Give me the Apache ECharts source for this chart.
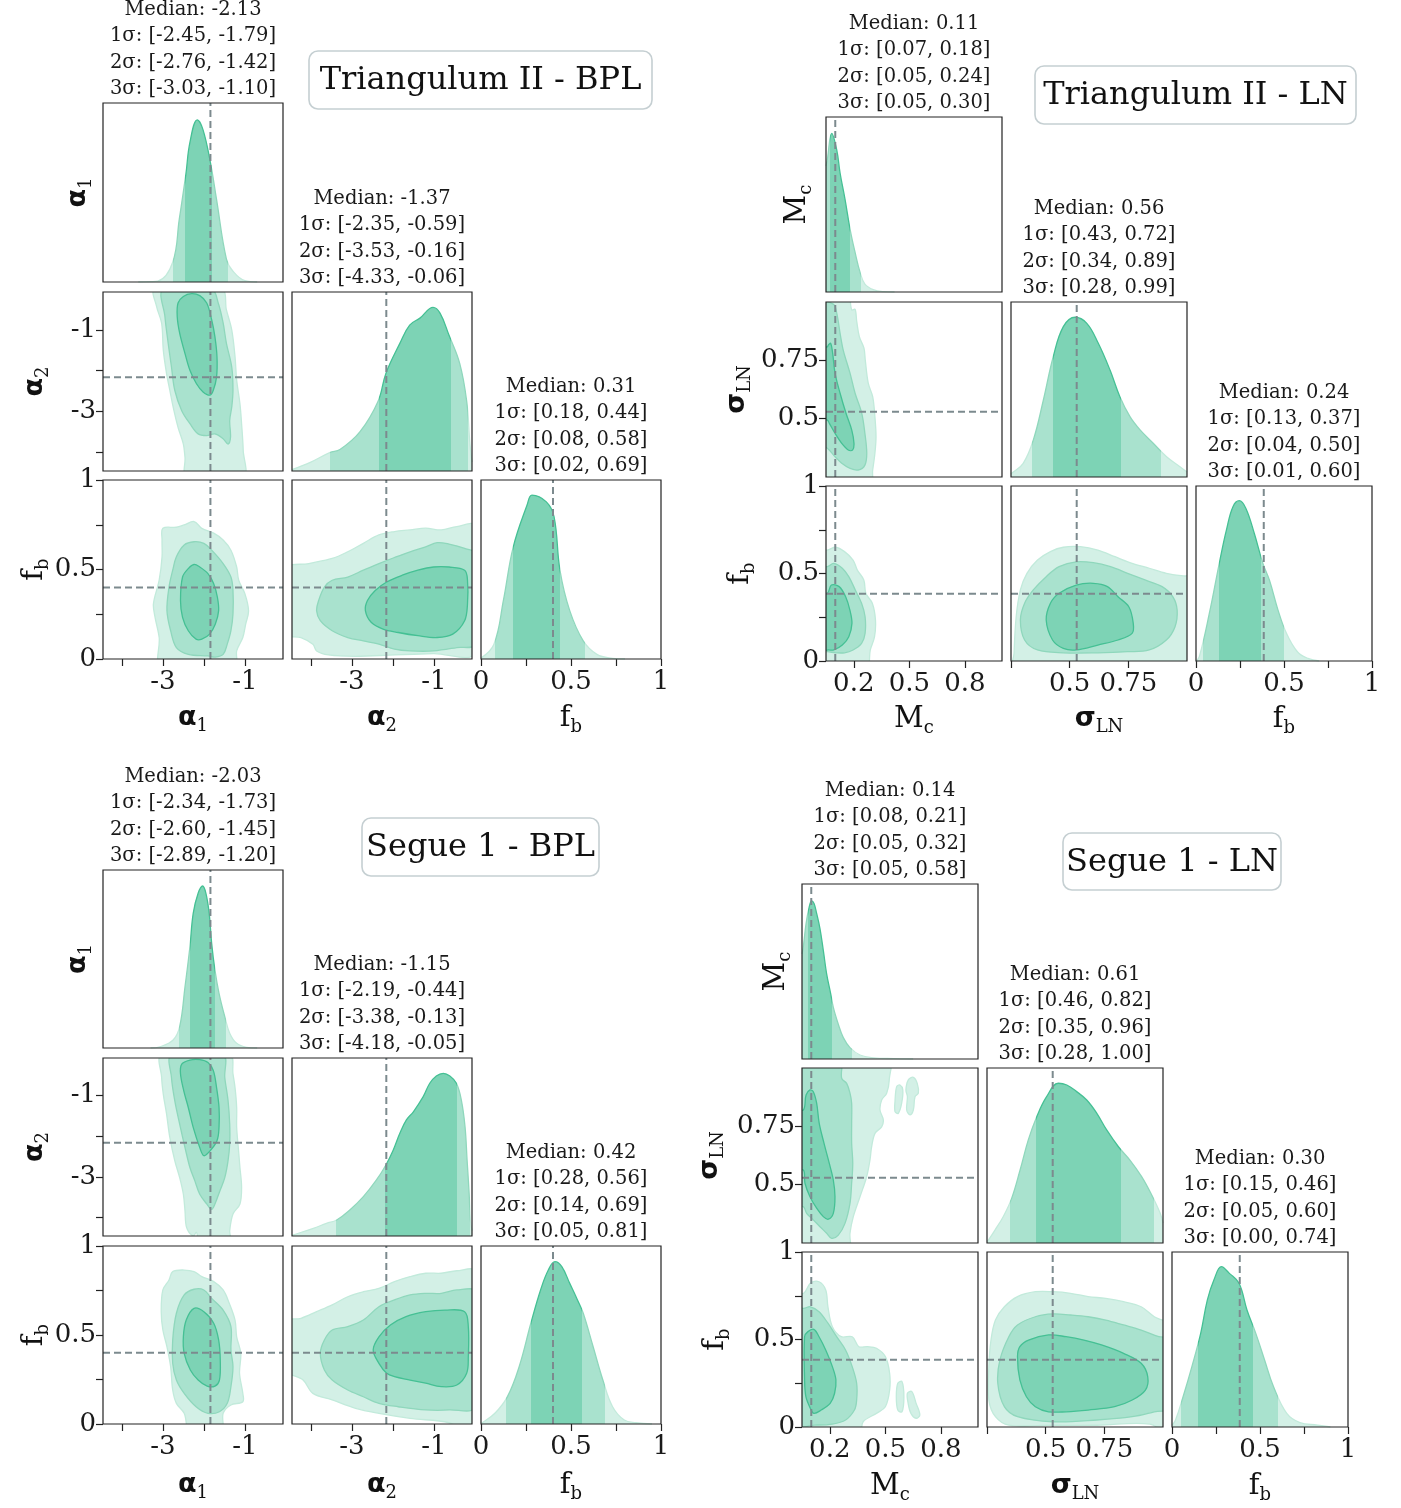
<!DOCTYPE html>
<html><head><meta charset="utf-8">
<script src="https://cdn.jsdelivr.net/npm/echarts@6/dist/echarts.min.js"></script>
<style>html,body{margin:0;padding:0;background:#fff}#chart{width:1401px;height:1508px}</style>
</head><body><div id="chart"></div>
<script>
// ================= DATA =================
const TITLES = ['Triangulum II - BPL', 'Triangulum II - LN', 'Segue 1 - BPL', 'Segue 1 - LN'];

const BPL_NAMES = [['α', '1'], ['α', '2'], ['f', 'b']];
const LN_NAMES = [['M', 'c'], ['σ', 'LN'], ['f', 'b']];

const BPL_RANGES = [[-4.46, -0.07], [-4.46, -0.07], [0, 1]];
const LN_RANGES = [[0.05, 1.0], [0.25, 1.0], [0, 1]];
const BPL_X_TICKS = [[-4, -3, -2, -1], [-4, -3, -2, -1], [0, 0.25, 0.5, 0.75, 1]];
const BPL_X_LABELS = [[-3, -1], [-3, -1], [0, 0.5, 1]];
const BPL_Y_TICKS = [null, [-4, -3, -2, -1], [0, 0.25, 0.5, 0.75, 1]];
const BPL_Y_LABELS = [null, [-3, -1], [0, 0.5, 1]];
const LN_X_TICKS = [[0.2, 0.5, 0.8], [0.25, 0.5, 0.75], [0, 0.25, 0.5, 0.75, 1]];
const LN_X_LABELS = [[0.2, 0.5, 0.8], [0.5, 0.75], [0, 0.5, 1]];
const LN_Y_TICKS = [null, [0.5, 0.75], [0, 0.25, 0.5, 0.75, 1]];
const LN_Y_LABELS = [null, [0.5, 0.75], [0, 0.5, 1]];

const BPL_TRUTH = [-1.84, -2.16, 0.40];
const LN_TRUTH = [0.10, 0.53, 0.385];

// ---- Triangulum II - BPL ----
const TRI_BPL_MEDIAN = [-2.13, -1.37, 0.31];
const TRI_BPL_1S = [[-2.45, -1.79], [-2.35, -0.59], [0.18, 0.44]];
const TRI_BPL_2S = [[-2.76, -1.42], [-3.53, -0.16], [0.08, 0.58]];
const TRI_BPL_3S = [[-3.03, -1.10], [-4.33, -0.06], [0.02, 0.69]];
const TRI_BPL_KDE0_X = [-3.6, -3.3, -3.12, -2.76, -2.6, -2.44, -2.34, -2.16, -2.02, -1.84, -1.69, -1.45, -1.29, -1.0, -0.7];
const TRI_BPL_KDE0_Y = [0, 0.002, 0.005, 0.11, 0.35, 0.6, 0.78, 0.906, 0.85, 0.667, 0.46, 0.128, 0.06, 0.007, 0];
const TRI_BPL_KDE1_X = [-4.46, -4.0, -3.54, -3.29, -2.80, -2.36, -2.17, -1.83, -1.59, -1.34, -1.02, -0.85, -0.63, -0.37, -0.20, -0.12, -0.07];
const TRI_BPL_KDE1_Y = [0.008, 0.05, 0.103, 0.12, 0.22, 0.39, 0.545, 0.713, 0.815, 0.854, 0.914, 0.882, 0.758, 0.601, 0.39, 0.15, 0.05];
const TRI_BPL_KDE2_X = [0, 0.072, 0.125, 0.179, 0.256, 0.283, 0.363, 0.406, 0.439, 0.493, 0.568, 0.644, 0.73, 0.8];
const TRI_BPL_KDE2_Y = [0.005, 0.082, 0.33, 0.625, 0.86, 0.916, 0.878, 0.794, 0.494, 0.27, 0.101, 0.026, 0.004, 0];
const TRI_BPL_C10_OUT = [[-3.195, 0.0], [-3.154, -0.425], [-3.03, -0.835], [-2.99, -1.49], [-2.91, -2.07], [-2.83, -2.48], [-2.75, -2.89], [-2.63, -3.39], [-2.50, -3.80], [-2.46, -4.13], [-2.42, -4.6], [-1.04, -4.6], [-1.04, -3.96], [-1.08, -3.30], [-1.12, -2.81], [-1.20, -2.23], [-1.24, -1.66], [-1.32, -1.0], [-1.45, -0.51], [-1.57, 0.0]];
const TRI_BPL_C10_MID = [[-2.99, 0.0], [-2.95, -0.67], [-2.87, -1.33], [-2.79, -1.91], [-2.71, -2.48], [-2.54, -2.98], [-2.34, -3.30], [-2.14, -3.55], [-1.93, -3.59], [-1.73, -3.55], [-1.53, -3.67], [-1.41, -3.80], [-1.35, -3.63], [-1.37, -3.22], [-1.32, -2.89], [-1.29, -2.48], [-1.32, -1.91], [-1.45, -1.33], [-1.53, -0.83], [-1.65, -0.34], [-1.81, 0.0]];
const TRI_BPL_C10_IN = [[-2.63, -0.34], [-2.50, -0.18], [-2.30, -0.11], [-2.10, -0.16], [-1.93, -0.34], [-1.81, -0.75], [-1.73, -1.17], [-1.68, -1.66], [-1.69, -2.15], [-1.77, -2.48], [-1.85, -2.60], [-2.02, -2.52], [-2.18, -2.32], [-2.34, -1.99], [-2.46, -1.58], [-2.59, -1.08], [-2.65, -0.67]];
const TRI_BPL_C20_OUT = [[-3.0, 0.73], [-2.67, 0.736], [-2.48, 0.749], [-2.24, 0.768], [-2.05, 0.73], [-1.76, 0.703], [-1.53, 0.665], [-1.34, 0.608], [-1.20, 0.514], [-1.15, 0.44], [-1.0, 0.365], [-0.91, 0.27], [-0.98, 0.195], [-1.05, 0.12], [-1.20, 0.045], [-1.24, -0.05], [-3.04, -0.05], [-3.09, 0.12], [-3.19, 0.233], [-3.23, 0.308], [-3.09, 0.44], [-3.02, 0.571], [-3.02, 0.665]];
const TRI_BPL_C20_MID = [[-2.67, 0.571], [-2.48, 0.637], [-2.24, 0.655], [-2.0, 0.646], [-1.81, 0.608], [-1.53, 0.533], [-1.34, 0.458], [-1.29, 0.383], [-1.29, 0.252], [-1.34, 0.158], [-1.43, 0.083], [-1.53, 0.026], [-1.72, 0.011], [-1.90, 0.017], [-2.38, 0.026], [-2.67, 0.064], [-2.81, 0.158], [-2.90, 0.27], [-2.85, 0.402], [-2.76, 0.496]];
const TRI_BPL_C20_IN = [[-2.52, 0.458], [-2.38, 0.505], [-2.24, 0.528], [-2.10, 0.514], [-1.90, 0.477], [-1.76, 0.421], [-1.67, 0.345], [-1.64, 0.27], [-1.72, 0.195], [-1.86, 0.139], [-2.05, 0.111], [-2.19, 0.111], [-2.38, 0.158], [-2.52, 0.233], [-2.57, 0.327]];
const TRI_BPL_C21_OUT = [[-4.6, 0.505], [-4.05, 0.533], [-3.48, 0.562], [-3.10, 0.599], [-2.72, 0.646], [-2.34, 0.693], [-1.96, 0.712], [-1.58, 0.721], [-1.20, 0.731], [-0.82, 0.721], [-0.44, 0.74], [0.0, 0.744], [0.0, 0.036], [-1.01, 0.03], [-1.96, 0.023], [-2.91, 0.015], [-3.57, 0.023], [-3.86, 0.045], [-3.95, 0.083], [-4.24, 0.12], [-4.6, 0.139]];
const TRI_BPL_C21_MID = [[-3.86, 0.27], [-3.81, 0.327], [-3.67, 0.402], [-3.48, 0.44], [-3.10, 0.458], [-2.72, 0.496], [-2.34, 0.533], [-1.96, 0.567], [-1.58, 0.599], [-1.20, 0.627], [-0.92, 0.65], [-0.63, 0.642], [-0.25, 0.618], [0.0, 0.59], [0.0, 0.083], [-0.44, 0.064], [-1.01, 0.045], [-1.58, 0.045], [-1.96, 0.055], [-2.34, 0.083], [-2.72, 0.101], [-3.10, 0.12], [-3.48, 0.158], [-3.77, 0.214]];
const TRI_BPL_C21_IN = [[-2.67, 0.27], [-2.62, 0.327], [-2.43, 0.383], [-2.15, 0.43], [-1.77, 0.468], [-1.39, 0.496], [-1.01, 0.514], [-0.63, 0.514], [-0.25, 0.496], [-0.18, 0.44], [-0.18, 0.308], [-0.25, 0.214], [-0.54, 0.139], [-0.92, 0.12], [-1.39, 0.13], [-1.87, 0.148], [-2.24, 0.167], [-2.53, 0.205]];

// ---- Triangulum II - LN ----
const TRI_LN_MEDIAN = [0.11, 0.56, 0.24];
const TRI_LN_1S = [[0.07, 0.18], [0.43, 0.72], [0.13, 0.37]];
const TRI_LN_2S = [[0.05, 0.24], [0.34, 0.89], [0.04, 0.50]];
const TRI_LN_3S = [[0.05, 0.30], [0.28, 0.99], [0.01, 0.60]];
const TRI_LN_KDE0_X = [0.05, 0.057, 0.081, 0.108, 0.126, 0.153, 0.18, 0.207, 0.234, 0.26, 0.305, 0.359, 0.42];
const TRI_LN_KDE0_Y = [0.72, 0.756, 0.907, 0.812, 0.68, 0.528, 0.358, 0.226, 0.112, 0.045, 0.013, 0.002, 0];
const TRI_LN_KDE1_X = [0.25, 0.253, 0.302, 0.345, 0.388, 0.430, 0.473, 0.523, 0.573, 0.622, 0.672, 0.714, 0.757, 0.80, 0.856, 0.913, 0.970, 1.0];
const TRI_LN_KDE1_Y = [0.015, 0.021, 0.078, 0.211, 0.44, 0.687, 0.859, 0.913, 0.878, 0.764, 0.611, 0.459, 0.345, 0.269, 0.193, 0.116, 0.059, 0.028];
const TRI_LN_KDE2_X = [0, 0.019, 0.076, 0.136, 0.173, 0.21, 0.246, 0.283, 0.331, 0.38, 0.417, 0.466, 0.514, 0.576, 0.636, 0.7];
const TRI_LN_KDE2_Y = [0, 0.025, 0.273, 0.577, 0.749, 0.882, 0.916, 0.873, 0.73, 0.558, 0.463, 0.291, 0.158, 0.053, 0.015, 0];
const TRI_LN_C10_OUT = [[0.0, 1.05], [0.162, 1.05], [0.189, 0.966], [0.207, 0.969], [0.216, 0.916], [0.23, 0.851], [0.255, 0.802], [0.262, 0.751], [0.278, 0.652], [0.302, 0.594], [0.314, 0.508], [0.32, 0.423], [0.314, 0.352], [0.302, 0.28], [0.288, 0.2], [0.0, 0.2]];
const TRI_LN_C10_MID = [[0.0, 0.995], [0.089, 0.991], [0.108, 0.952], [0.126, 0.866], [0.143, 0.794], [0.18, 0.694], [0.207, 0.609], [0.243, 0.523], [0.26, 0.437], [0.27, 0.352], [0.26, 0.301], [0.224, 0.28], [0.18, 0.287], [0.135, 0.309], [0.099, 0.337], [0.057, 0.373], [0.0, 0.4]];
const TRI_LN_C10_IN = [[0.0, 0.80], [0.057, 0.808], [0.063, 0.816], [0.075, 0.823], [0.086, 0.78], [0.099, 0.694], [0.126, 0.609], [0.158, 0.523], [0.189, 0.451], [0.201, 0.394], [0.194, 0.366], [0.17, 0.366], [0.135, 0.394], [0.099, 0.437], [0.068, 0.48], [0.057, 0.494], [0.0, 0.5]];
const TRI_LN_C20_OUT = [[0.0, 0.63], [0.057, 0.634], [0.103, 0.65], [0.15, 0.625], [0.196, 0.577], [0.219, 0.52], [0.254, 0.463], [0.265, 0.387], [0.3, 0.33], [0.317, 0.234], [0.312, 0.139], [0.289, 0.063], [0.265, -0.05], [0.0, -0.05]];
const TRI_LN_C20_MID = [[0.0, 0.54], [0.057, 0.539], [0.092, 0.558], [0.138, 0.53], [0.173, 0.482], [0.208, 0.406], [0.242, 0.33], [0.261, 0.253], [0.261, 0.158], [0.242, 0.101], [0.196, 0.063], [0.15, 0.047], [0.103, 0.047], [0.057, 0.053], [0.0, 0.053]];
const TRI_LN_C20_IN = [[0.0, 0.39], [0.057, 0.387], [0.079, 0.434], [0.121, 0.425], [0.156, 0.367], [0.179, 0.291], [0.19, 0.215], [0.173, 0.139], [0.138, 0.091], [0.092, 0.063], [0.062, 0.063], [0.0, 0.06]];
const TRI_LN_C21_OUT = [[0.263, 0.044], [0.272, 0.253], [0.29, 0.406], [0.318, 0.501], [0.363, 0.577], [0.418, 0.625], [0.473, 0.65], [0.546, 0.653], [0.62, 0.634], [0.693, 0.596], [0.766, 0.558], [0.839, 0.53], [0.912, 0.501], [0.985, 0.486], [1.05, 0.482], [1.05, -0.05], [0.263, -0.05]];
const TRI_LN_C21_MID = [[0.29, 0.234], [0.308, 0.33], [0.345, 0.406], [0.4, 0.482], [0.455, 0.539], [0.528, 0.567], [0.601, 0.562], [0.674, 0.539], [0.747, 0.501], [0.821, 0.463], [0.894, 0.425], [0.94, 0.367], [0.958, 0.291], [0.949, 0.196], [0.912, 0.12], [0.839, 0.063], [0.747, 0.053], [0.62, 0.047], [0.473, 0.047], [0.363, 0.063], [0.308, 0.12]];
const TRI_LN_C21_IN = [[0.4, 0.234], [0.418, 0.33], [0.455, 0.387], [0.528, 0.434], [0.601, 0.444], [0.661, 0.425], [0.706, 0.367], [0.752, 0.31], [0.771, 0.215], [0.766, 0.158], [0.706, 0.12], [0.62, 0.091], [0.528, 0.063], [0.473, 0.072], [0.427, 0.12]];

// ---- Segue 1 - BPL ----
const SEG_BPL_MEDIAN = [-2.03, -1.15, 0.42];
const SEG_BPL_1S = [[-2.34, -1.73], [-2.19, -0.44], [0.28, 0.56]];
const SEG_BPL_2S = [[-2.60, -1.45], [-3.38, -0.13], [0.14, 0.69]];
const SEG_BPL_3S = [[-2.89, -1.20], [-4.18, -0.05], [0.05, 0.81]];
const SEG_BPL_KDE0_X = [-3.3, -3.07, -2.75, -2.59, -2.46, -2.34, -2.26, -2.14, -2.03, -1.95, -1.87, -1.81, -1.73, -1.63, -1.49, -1.37, -1.20, -0.96, -0.7];
const SEG_BPL_KDE0_Y = [0, 0.007, 0.045, 0.12, 0.344, 0.569, 0.756, 0.869, 0.91, 0.869, 0.756, 0.588, 0.438, 0.307, 0.176, 0.083, 0.026, 0.004, 0];
const SEG_BPL_KDE1_X = [-4.46, -4.43, -3.94, -3.62, -3.37, -3.05, -2.72, -2.40, -2.17, -1.99, -1.83, -1.67, -1.50, -1.26, -1.10, -0.94, -0.77, -0.61, -0.45, -0.33, -0.24, -0.19, -0.14, -0.11, -0.07];
const SEG_BPL_KDE1_Y = [0.004, 0.006, 0.043, 0.071, 0.09, 0.146, 0.221, 0.315, 0.399, 0.483, 0.577, 0.652, 0.698, 0.783, 0.858, 0.899, 0.914, 0.899, 0.858, 0.764, 0.614, 0.427, 0.24, 0.09, 0.03];
const SEG_BPL_KDE2_X = [0, 0.007, 0.077, 0.147, 0.212, 0.277, 0.331, 0.374, 0.411, 0.449, 0.493, 0.536, 0.568, 0.623, 0.677, 0.731, 0.796, 0.861, 0.95];
const SEG_BPL_KDE2_Y = [0.004, 0.007, 0.06, 0.154, 0.322, 0.566, 0.753, 0.865, 0.912, 0.884, 0.79, 0.697, 0.622, 0.434, 0.247, 0.097, 0.022, 0.007, 0];
const SEG_BPL_C10_OUT = [[-3.03, 0.0], [-3.03, -0.55], [-2.99, -0.96], [-2.91, -1.45], [-2.83, -2.03], [-2.71, -2.60], [-2.59, -3.02], [-2.50, -3.43], [-2.46, -3.84], [-2.42, -4.25], [-2.26, -4.46], [-2.18, -4.37], [-2.10, -4.6], [-1.37, -4.6], [-1.37, -4.33], [-1.29, -3.92], [-1.12, -3.67], [-1.08, -3.26], [-1.12, -2.77], [-1.16, -2.28], [-1.20, -1.78], [-1.20, -1.29], [-1.24, -0.80], [-1.29, -0.46], [-1.37, 0.0]];
const SEG_BPL_C10_MID = [[-2.79, 0.0], [-2.79, -0.55], [-2.71, -1.12], [-2.59, -1.70], [-2.46, -2.28], [-2.34, -2.77], [-2.22, -3.10], [-2.10, -3.43], [-1.93, -3.67], [-1.81, -3.80], [-1.73, -3.67], [-1.61, -3.35], [-1.49, -3.02], [-1.41, -2.60], [-1.37, -2.19], [-1.37, -1.70], [-1.41, -1.12], [-1.49, -0.55], [-1.53, 0.0]];
const SEG_BPL_C10_IN = [[-2.54, -0.22], [-2.34, -0.12], [-2.10, -0.11], [-1.90, -0.18], [-1.77, -0.38], [-1.69, -0.80], [-1.63, -1.29], [-1.63, -1.78], [-1.68, -2.11], [-1.85, -2.36], [-2.0, -2.48], [-2.10, -2.28], [-2.26, -1.78], [-2.38, -1.29], [-2.49, -0.88], [-2.57, -0.46]];
const SEG_BPL_C20_OUT = [[-3.04, 0.631], [-3.0, 0.753], [-2.85, 0.809], [-2.76, 0.856], [-2.48, 0.865], [-2.24, 0.856], [-2.05, 0.828], [-1.76, 0.8], [-1.53, 0.753], [-1.38, 0.678], [-1.24, 0.584], [-1.20, 0.49], [-1.10, 0.397], [-1.13, 0.285], [-1.05, 0.172], [-1.05, 0.125], [-1.34, 0.107], [-1.53, 0.06], [-1.57, -0.05], [-2.33, -0.05], [-2.48, 0.06], [-2.67, 0.116], [-2.76, 0.191], [-2.81, 0.322], [-2.90, 0.434], [-3.0, 0.528]];
const SEG_BPL_C20_MID = [[-2.76, 0.472], [-2.67, 0.622], [-2.48, 0.725], [-2.24, 0.757], [-2.0, 0.753], [-1.81, 0.706], [-1.53, 0.64], [-1.34, 0.547], [-1.34, 0.416], [-1.29, 0.322], [-1.34, 0.21], [-1.43, 0.116], [-1.62, 0.069], [-1.90, 0.06], [-2.19, 0.097], [-2.48, 0.172], [-2.67, 0.247], [-2.76, 0.341]];
const SEG_BPL_C20_IN = [[-2.50, 0.49], [-2.43, 0.584], [-2.24, 0.65], [-2.0, 0.631], [-1.76, 0.566], [-1.64, 0.472], [-1.60, 0.36], [-1.62, 0.247], [-1.73, 0.213], [-1.92, 0.213], [-2.14, 0.247], [-2.33, 0.303], [-2.48, 0.397]];
const SEG_BPL_C21_OUT = [[-4.6, 0.575], [-4.24, 0.594], [-3.86, 0.631], [-3.48, 0.669], [-3.10, 0.715], [-2.72, 0.743], [-2.34, 0.762], [-1.96, 0.8], [-1.58, 0.828], [-1.20, 0.847], [-0.82, 0.847], [-0.44, 0.861], [0.0, 0.856], [0.0, -0.05], [-0.63, 0.007], [-1.58, 0.032], [-2.34, 0.06], [-2.91, 0.088], [-3.48, 0.135], [-3.95, 0.172], [-4.19, 0.247], [-4.6, 0.303]];
const SEG_BPL_C21_MID = [[-3.77, 0.397], [-3.67, 0.472], [-3.48, 0.528], [-3.10, 0.547], [-2.72, 0.584], [-2.34, 0.659], [-1.96, 0.697], [-1.58, 0.725], [-1.20, 0.734], [-0.82, 0.734], [-0.44, 0.753], [0.0, 0.743], [0.0, 0.097], [-0.63, 0.079], [-1.20, 0.079], [-1.87, 0.097], [-2.34, 0.116], [-2.72, 0.153], [-3.10, 0.191], [-3.48, 0.247], [-3.67, 0.303]];
const SEG_BPL_C21_IN = [[-2.48, 0.416], [-2.34, 0.49], [-2.06, 0.556], [-1.68, 0.603], [-1.20, 0.631], [-0.73, 0.64], [-0.25, 0.631], [-0.16, 0.547], [-0.16, 0.378], [-0.20, 0.285], [-0.44, 0.219], [-0.82, 0.21], [-1.20, 0.229], [-1.58, 0.247], [-1.96, 0.266], [-2.15, 0.285], [-2.34, 0.341]];

// ---- Segue 1 - LN ----
const SEG_LN_MEDIAN = [0.14, 0.61, 0.30];
const SEG_LN_1S = [[0.08, 0.21], [0.46, 0.82], [0.15, 0.46]];
const SEG_LN_2S = [[0.05, 0.32], [0.35, 0.96], [0.05, 0.60]];
const SEG_LN_3S = [[0.05, 0.58], [0.28, 1.00], [0.00, 0.74]];
const SEG_LN_KDE0_X = [0.05, 0.057, 0.072, 0.089, 0.102, 0.115, 0.129, 0.147, 0.165, 0.183, 0.205, 0.219, 0.246, 0.273, 0.309, 0.363, 0.435, 0.543, 0.65];
const SEG_LN_KDE0_Y = [0.6, 0.64, 0.774, 0.869, 0.904, 0.889, 0.832, 0.745, 0.621, 0.487, 0.372, 0.295, 0.199, 0.122, 0.065, 0.023, 0.007, 0.002, 0];
const SEG_LN_KDE1_X = [0.25, 0.256, 0.284, 0.319, 0.355, 0.391, 0.426, 0.462, 0.504, 0.554, 0.59, 0.632, 0.675, 0.718, 0.76, 0.81, 0.859, 0.909, 0.952, 0.988, 1.0];
const SEG_LN_KDE1_Y = [0.01, 0.017, 0.074, 0.15, 0.255, 0.417, 0.589, 0.722, 0.836, 0.913, 0.903, 0.865, 0.817, 0.741, 0.646, 0.55, 0.474, 0.379, 0.274, 0.17, 0.113];
const SEG_LN_KDE2_X = [0, 0.02, 0.063, 0.113, 0.163, 0.201, 0.238, 0.281, 0.326, 0.381, 0.426, 0.476, 0.526, 0.577, 0.652, 0.727, 0.827, 0.9];
const SEG_LN_KDE2_Y = [0.01, 0.04, 0.173, 0.345, 0.535, 0.726, 0.84, 0.916, 0.878, 0.821, 0.669, 0.535, 0.383, 0.23, 0.078, 0.025, 0.011, 0];
const SEG_LN_C10_OUT = [[0.0, 1.05], [0.516, 1.05], [0.521, 0.949], [0.507, 0.892], [0.48, 0.863], [0.471, 0.82], [0.489, 0.777], [0.48, 0.748], [0.444, 0.72], [0.426, 0.663], [0.417, 0.606], [0.399, 0.534], [0.363, 0.448], [0.327, 0.363], [0.309, 0.292], [0.30, 0.2], [0.0, 0.2]];
const SEG_LN_C10_ISL1 = [[0.561, 0.92], [0.579, 0.927], [0.594, 0.906], [0.588, 0.849], [0.57, 0.806], [0.552, 0.813], [0.552, 0.857]];
const SEG_LN_C10_ISL2 = [[0.624, 0.949], [0.651, 0.96], [0.672, 0.934], [0.678, 0.892], [0.66, 0.877], [0.651, 0.82], [0.633, 0.799], [0.615, 0.82], [0.619, 0.877], [0.611, 0.906]];
const SEG_LN_C10_MID = [[0.0, 1.05], [0.255, 1.05], [0.264, 0.956], [0.291, 0.934], [0.309, 0.892], [0.318, 0.849], [0.318, 0.763], [0.318, 0.677], [0.324, 0.592], [0.318, 0.506], [0.309, 0.42], [0.282, 0.334], [0.246, 0.284], [0.21, 0.27], [0.183, 0.292], [0.147, 0.32], [0.111, 0.349], [0.075, 0.377], [0.057, 0.406], [0.0, 0.41]];
const SEG_LN_C10_IN = [[0.0, 0.82], [0.057, 0.82], [0.072, 0.884], [0.093, 0.906], [0.111, 0.898], [0.129, 0.849], [0.143, 0.763], [0.169, 0.677], [0.197, 0.592], [0.219, 0.52], [0.228, 0.448], [0.219, 0.377], [0.192, 0.352], [0.165, 0.363], [0.129, 0.399], [0.093, 0.448], [0.066, 0.506], [0.057, 0.563], [0.0, 0.56]];
const SEG_LN_C20_OUT = [[0.0, 0.76], [0.059, 0.764], [0.095, 0.821], [0.142, 0.83], [0.178, 0.783], [0.19, 0.687], [0.214, 0.573], [0.262, 0.516], [0.321, 0.516], [0.357, 0.459], [0.404, 0.459], [0.452, 0.45], [0.5, 0.402], [0.523, 0.307], [0.523, 0.211], [0.5, 0.116], [0.452, 0.078], [0.38, 0.03], [0.357, -0.05], [0.0, -0.05]];
const SEG_LN_C20_ISL1 = [[0.559, 0.173], [0.567, 0.25], [0.59, 0.259], [0.6, 0.173], [0.59, 0.087], [0.567, 0.097]];
const SEG_LN_C20_ISL2 = [[0.619, 0.193], [0.643, 0.202], [0.666, 0.135], [0.686, 0.069], [0.666, 0.05], [0.638, 0.078], [0.623, 0.135]];
const SEG_LN_C20_MID = [[0.0, 0.68], [0.059, 0.678], [0.095, 0.687], [0.142, 0.659], [0.19, 0.593], [0.237, 0.516], [0.285, 0.44], [0.321, 0.345], [0.345, 0.25], [0.345, 0.154], [0.333, 0.097], [0.285, 0.04], [0.214, 0.017], [0.119, 0.011], [0.0, 0.011]];
const SEG_LN_C20_IN = [[0.064, 0.516], [0.082, 0.545], [0.114, 0.558], [0.142, 0.516], [0.178, 0.44], [0.214, 0.345], [0.233, 0.269], [0.226, 0.193], [0.202, 0.135], [0.154, 0.097], [0.114, 0.078], [0.095, 0.107], [0.071, 0.173], [0.064, 0.269]];
const SEG_LN_C21_OUT = [[0.258, 0.345], [0.267, 0.497], [0.286, 0.611], [0.324, 0.687], [0.38, 0.745], [0.456, 0.773], [0.531, 0.773], [0.606, 0.764], [0.681, 0.745], [0.756, 0.735], [0.832, 0.716], [0.907, 0.687], [0.963, 0.63], [1.05, 0.564], [1.05, -0.05], [0.944, 0.017], [0.719, 0.01], [0.531, 0.01], [0.343, 0.011], [0.286, 0.059], [0.258, 0.154]];
const SEG_LN_C21_MID = [[0.296, 0.25], [0.305, 0.383], [0.343, 0.516], [0.38, 0.583], [0.456, 0.63], [0.531, 0.646], [0.606, 0.64], [0.681, 0.63], [0.756, 0.611], [0.832, 0.583], [0.907, 0.554], [0.982, 0.516], [1.05, 0.497], [1.05, 0.116], [0.963, 0.087], [0.869, 0.059], [0.719, 0.04], [0.531, 0.03], [0.38, 0.059], [0.324, 0.116]];
const SEG_LN_C21_IN = [[0.38, 0.402], [0.39, 0.459], [0.427, 0.497], [0.512, 0.526], [0.587, 0.516], [0.663, 0.497], [0.738, 0.469], [0.832, 0.421], [0.907, 0.364], [0.935, 0.287], [0.925, 0.211], [0.869, 0.154], [0.794, 0.116], [0.681, 0.097], [0.587, 0.087], [0.512, 0.087], [0.456, 0.116], [0.418, 0.173], [0.39, 0.269]];

// ================= STYLE / LAYOUT =================
const FONT = '"DejaVu Serif", serif';
const C1 = '#7dd3b5', C2 = '#a9e2ce', C3 = '#d3f0e6';
const L1 = '#45c094', L2 = '#8fd7bc', L3 = '#c2eadb';
const TRUTH_COLOR = '#7c8a8e';

const LAYOUT = [
  {cols: [103, 292, 481], rows: [103, 292, 480], w: 180, h: 179, box: [309, 51, 343, 58], yName: [80, 37, 36], xNameY: 720},
  {cols: [826, 1011, 1196], rows: [117, 302, 486], w: 176, h: 175, box: [1035, 66, 321, 58], yName: [799, 739, 742], xNameY: 721},
  {cols: [103, 292, 481], rows: [870, 1058, 1246], w: 180, h: 178, box: [362, 818, 237, 58], yName: [80, 37, 36], xNameY: 1487},
  {cols: [802, 987, 1172], rows: [884, 1068, 1252], w: 176, h: 175, box: [1063, 833, 218, 57], yName: [778, 712, 717], xNameY: 1488}
];

function kde(xs, ys) { return {x: xs, y: ys}; }
const CORNERS = [
  {title: TITLES[0], names: BPL_NAMES, ranges: BPL_RANGES, xt: BPL_X_TICKS, xl: BPL_X_LABELS, yt: BPL_Y_TICKS, yl: BPL_Y_LABELS, truth: BPL_TRUTH,
   med: TRI_BPL_MEDIAN, s1: TRI_BPL_1S, s2: TRI_BPL_2S, s3: TRI_BPL_3S,
   kde: [kde(TRI_BPL_KDE0_X, TRI_BPL_KDE0_Y), kde(TRI_BPL_KDE1_X, TRI_BPL_KDE1_Y), kde(TRI_BPL_KDE2_X, TRI_BPL_KDE2_Y)],
   cont: {'10': [TRI_BPL_C10_OUT, TRI_BPL_C10_MID, TRI_BPL_C10_IN], '20': [TRI_BPL_C20_OUT, TRI_BPL_C20_MID, TRI_BPL_C20_IN], '21': [TRI_BPL_C21_OUT, TRI_BPL_C21_MID, TRI_BPL_C21_IN]}, isl: {}},
  {title: TITLES[1], names: LN_NAMES, ranges: LN_RANGES, xt: LN_X_TICKS, xl: LN_X_LABELS, yt: LN_Y_TICKS, yl: LN_Y_LABELS, truth: LN_TRUTH,
   med: TRI_LN_MEDIAN, s1: TRI_LN_1S, s2: TRI_LN_2S, s3: TRI_LN_3S,
   kde: [kde(TRI_LN_KDE0_X, TRI_LN_KDE0_Y), kde(TRI_LN_KDE1_X, TRI_LN_KDE1_Y), kde(TRI_LN_KDE2_X, TRI_LN_KDE2_Y)],
   cont: {'10': [TRI_LN_C10_OUT, TRI_LN_C10_MID, TRI_LN_C10_IN], '20': [TRI_LN_C20_OUT, TRI_LN_C20_MID, TRI_LN_C20_IN], '21': [TRI_LN_C21_OUT, TRI_LN_C21_MID, TRI_LN_C21_IN]}, isl: {}},
  {title: TITLES[2], names: BPL_NAMES, ranges: BPL_RANGES, xt: BPL_X_TICKS, xl: BPL_X_LABELS, yt: BPL_Y_TICKS, yl: BPL_Y_LABELS, truth: BPL_TRUTH,
   med: SEG_BPL_MEDIAN, s1: SEG_BPL_1S, s2: SEG_BPL_2S, s3: SEG_BPL_3S,
   kde: [kde(SEG_BPL_KDE0_X, SEG_BPL_KDE0_Y), kde(SEG_BPL_KDE1_X, SEG_BPL_KDE1_Y), kde(SEG_BPL_KDE2_X, SEG_BPL_KDE2_Y)],
   cont: {'10': [SEG_BPL_C10_OUT, SEG_BPL_C10_MID, SEG_BPL_C10_IN], '20': [SEG_BPL_C20_OUT, SEG_BPL_C20_MID, SEG_BPL_C20_IN], '21': [SEG_BPL_C21_OUT, SEG_BPL_C21_MID, SEG_BPL_C21_IN]}, isl: {}},
  {title: TITLES[3], names: LN_NAMES, ranges: LN_RANGES, xt: LN_X_TICKS, xl: LN_X_LABELS, yt: LN_Y_TICKS, yl: LN_Y_LABELS, truth: LN_TRUTH,
   med: SEG_LN_MEDIAN, s1: SEG_LN_1S, s2: SEG_LN_2S, s3: SEG_LN_3S,
   kde: [kde(SEG_LN_KDE0_X, SEG_LN_KDE0_Y), kde(SEG_LN_KDE1_X, SEG_LN_KDE1_Y), kde(SEG_LN_KDE2_X, SEG_LN_KDE2_Y)],
   cont: {'10': [SEG_LN_C10_OUT, SEG_LN_C10_MID, SEG_LN_C10_IN], '20': [SEG_LN_C20_OUT, SEG_LN_C20_MID, SEG_LN_C20_IN], '21': [SEG_LN_C21_OUT, SEG_LN_C21_MID, SEG_LN_C21_IN]},
   isl: {'10': [SEG_LN_C10_ISL1, SEG_LN_C10_ISL2], '20': [SEG_LN_C20_ISL1, SEG_LN_C20_ISL2]}}
];

// ================= BUILD =================
const option = {animation: false, backgroundColor: '#ffffff', grid: [], xAxis: [], yAxis: [], series: [], visualMap: [], graphic: []};
const G = option.graphic;

function axisDef(gi, r, ticks, labels, dir) {
  return {
    type: 'value', gridIndex: gi, min: r[0], max: r[1],
    axisLine: {show: false}, splitLine: {show: false},
    axisTick: ticks ? {show: true, customValues: ticks, length: 7, inside: false, lineStyle: {color: '#222', width: 1.2}} : {show: false},
    axisLabel: labels ? {show: true, customValues: labels, fontFamily: FONT, fontSize: 26, color: '#1a1a1a', margin: dir === 'x' ? 10 : 7, showMinLabel: true, showMaxLabel: true, hideOverlap: false} : {show: false}
  };
}
function addGrid(left, top, w, h, xr, yr, xt, xl, yt, yl) {
  const gi = option.grid.length;
  option.grid.push({left, top, width: w, height: h, containLabel: false, outerBoundsMode: 'none'});
  option.xAxis.push(axisDef(gi, xr, xt, xl, 'x'));
  option.yAxis.push(axisDef(gi, yr, yt, yl, 'y'));
  G.push({type: 'rect', z: 100, silent: true, shape: {x: left, y: top, width: w, height: h}, style: {fill: 'none', stroke: '#222', lineWidth: 1.2}});
  return gi;
}
function bands(s1, s2, cols) {
  return [
    {lt: s2[0], color: cols[0]},
    {gte: s2[0], lt: s1[0], color: cols[1]},
    {gte: s1[0], lte: s1[1], color: cols[2]},
    {gt: s1[1], lte: s2[1], color: cols[1]},
    {gt: s2[1], color: cols[0]}
  ];
}
function addKde(gi, k, s1, s2) {
  const data = k.x.map((x, i) => [x, k.y[i]]);
  const a = option.series.length;
  option.series.push({type: 'line', xAxisIndex: gi, yAxisIndex: gi, data, smooth: 0.4, symbol: 'none', silent: true, lineStyle: {width: 0}, areaStyle: {opacity: 1}, z: 2});
  option.visualMap.push({type: 'piecewise', show: false, dimension: 0, seriesIndex: a, pieces: bands(s1, s2, [C3, C2, C1])});
  const b = option.series.length;
  option.series.push({type: 'line', xAxisIndex: gi, yAxisIndex: gi, data, smooth: 0.4, symbol: 'none', silent: true, lineStyle: {width: 1.3}, z: 3});
  option.visualMap.push({type: 'piecewise', show: false, dimension: 0, seriesIndex: b, pieces: bands(s1, s2, [L3, L2, L1])});
}
function addPoly(gi, pts, fill, stroke, z) {
  option.series.push({
    type: 'custom', coordinateSystem: 'cartesian2d', xAxisIndex: gi, yAxisIndex: gi, clip: true, silent: true, z,
    data: pts,
    renderItem: (params, api) => {
      if (params.dataIndex !== 0) return null;
      const p = pts.map(d => api.coord(d));
      return {type: 'polygon', shape: {points: p, smooth: 0.35}, style: {fill, stroke, lineWidth: 1.3}};
    }
  });
}
function addTruth(gi, xr, yr, tx, ty) {
  const ls = {type: [7, 4], color: TRUTH_COLOR, width: 2};
  option.series.push({type: 'line', xAxisIndex: gi, yAxisIndex: gi, data: [[tx, yr[0]], [tx, yr[1]]], symbol: 'none', silent: true, lineStyle: ls, z: 20});
  if (ty !== null) option.series.push({type: 'line', xAxisIndex: gi, yAxisIndex: gi, data: [[xr[0], ty], [xr[1], ty]], symbol: 'none', silent: true, lineStyle: ls, z: 20});
}
function nameText(x, y, parts, rotate) {
  const greek = /[α-ω]/.test(parts[0]);
  G.push({type: 'text', x, y, rotation: rotate ? Math.PI / 2 : 0, z: 60, silent: true,
    style: {text: '{m|' + parts[0] + '}{s|' + parts[1] + '}', align: 'center', verticalAlign: 'middle',
      rich: {
        m: greek ? {fontFamily: '"DejaVu Sans", sans-serif', fontWeight: 'bold', fontSize: 27, fill: '#111', padding: [0, 0, 4, 0], verticalAlign: 'bottom'}
                 : {fontFamily: FONT, fontSize: 29, fill: '#111', padding: [0, 0, 4, 0], verticalAlign: 'bottom'},
        s: {fontFamily: FONT, fontSize: 18, fill: '#111', padding: [0, 0, 0, 0], verticalAlign: 'bottom'}
      }}});
}
const f2 = v => v.toFixed(2);

CORNERS.forEach((c, ci) => {
  const L = LAYOUT[ci];
  for (let i = 0; i < 3; i++) {
    for (let j = 0; j <= i; j++) {
      const left = L.cols[j], top = L.rows[i];
      const xr = c.ranges[j];
      const yr = i === j ? [0, 1] : c.ranges[i];
      const bottom = i === 2, leftCol = j === 0 && i !== j;
      const gi = addGrid(left, top, L.w, L.h, xr, yr,
        bottom ? c.xt[j] : null, bottom ? c.xl[j] : null,
        leftCol ? c.yt[i] : null, leftCol ? c.yl[i] : null);
      if (i === j) {
        addKde(gi, c.kde[i], c.s1[i], c.s2[i]);
      } else {
        const key = '' + i + j;
        const [o, m, n] = c.cont[key];
        addPoly(gi, o, C3, L3, 2);
        (c.isl[key] || []).forEach(p => addPoly(gi, p, C3, L3, 2));
        addPoly(gi, m, C2, L2, 3);
        addPoly(gi, n, C1, L1, 4);
      }
      addTruth(gi, xr, yr, c.truth[j], i !== j ? c.truth[i] : null);
    }
    const lines = ['Median: ' + f2(c.med[i]),
      '1σ: [' + f2(c.s1[i][0]) + ', ' + f2(c.s1[i][1]) + ']',
      '2σ: [' + f2(c.s2[i][0]) + ', ' + f2(c.s2[i][1]) + ']',
      '3σ: [' + f2(c.s3[i][0]) + ', ' + f2(c.s3[i][1]) + ']'];
    G.push({type: 'text', x: L.cols[i] + L.w / 2, y: L.rows[i] - 1, z: 60, silent: true,
      style: {text: lines.join('\n'), fill: '#1a1a1a', fontFamily: FONT, fontSize: 19.5, lineHeight: 26.3, align: 'center', verticalAlign: 'bottom'}});
    nameText(L.yName[i], L.rows[i] + L.h / 2, c.names[i], true);
    nameText(L.cols[i] + L.w / 2, L.xNameY, c.names[i], false);
  }
  const b = L.box;
  G.push({type: 'rect', z: 60, silent: true, shape: {x: b[0], y: b[1], width: b[2], height: b[3], r: 9}, style: {fill: '#ffffff', stroke: '#c5cfd2', lineWidth: 1.6}});
  G.push({type: 'text', z: 61, silent: true, x: b[0] + b[2] / 2, y: b[1] + b[3] / 2 + 1,
    style: {text: c.title, fill: '#111', fontFamily: FONT, fontSize: 32, align: 'center', verticalAlign: 'middle'}});
});

const chart = echarts.init(document.getElementById('chart'), null, {renderer: 'canvas', width: 1401, height: 1508});
chart.setOption(option);
</script>
</body></html>
